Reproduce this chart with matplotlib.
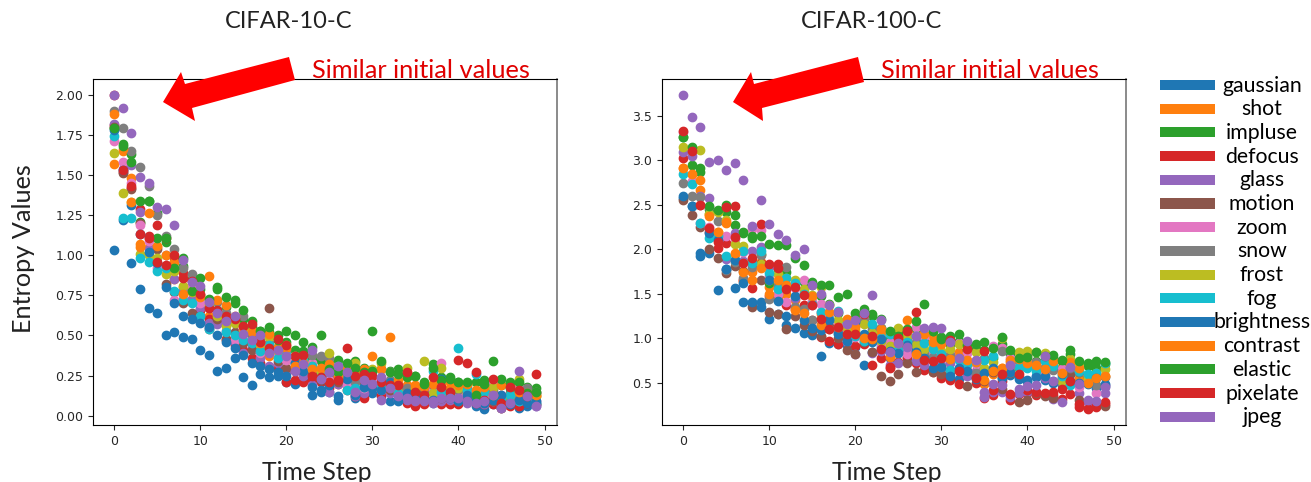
import matplotlib
matplotlib.use("Agg")
import matplotlib.pyplot as plt
import numpy as np
from matplotlib.patches import Polygon, Rectangle

W, H = 1311, 482

NAMES = ["gaussian", "shot", "impluse", "defocus", "glass", "motion", "zoom", "snow",
         "frost", "fog", "brightness", "contrast", "elastic", "pixelate", "jpeg"]
COLORS = ["C0", "C1", "C2", "C3", "C4", "C5", "C6", "C7", "C8", "C9", "C0", "C1", "C2", "C3", "C4"]
STEPS = list(range(50))

# entropy per time step, same order as NAMES
c10_gaussian = [1.03, 1.22, 0.95, 0.79, 0.67, 0.64, 0.50, 0.52, 0.49, 0.48,
                0.41, 0.38, 0.28, 0.30, 0.36, 0.24, 0.19, 0.26, 0.24, 0.25,
                0.21, 0.20, 0.22, 0.13, 0.15, 0.15, 0.10, 0.19, 0.11, 0.13,
                0.14, 0.12, 0.09, 0.10, 0.09, 0.09, 0.10, 0.08, 0.09, 0.08,
                0.08, 0.11, 0.06, 0.04, 0.07, 0.05, 0.14, 0.05, 0.06, 0.07]
c10_shot = [1.57, 1.65, 1.48, 1.07, 1.05, 1.05, 0.92, 0.85, 0.80, 0.72,
            0.66, 0.62, 0.63, 0.58, 0.49, 0.51, 0.46, 0.43, 0.37, 0.38,
            0.35, 0.30, 0.27, 0.24, 0.25, 0.24, 0.24, 0.27, 0.22, 0.24,
            0.24, 0.22, 0.20, 0.19, 0.19, 0.16, 0.15, 0.16, 0.14, 0.17,
            0.14, 0.13, 0.11, 0.14, 0.11, 0.11, 0.13, 0.10, 0.11, 0.12]
c10_impulse = [1.79, 1.69, 1.63, 1.21, 1.34, 1.26, 1.08, 0.96, 0.93, 0.85,
               0.79, 0.72, 0.79, 0.68, 0.70, 0.60, 0.55, 0.53, 0.52, 0.50,
               0.46, 0.41, 0.40, 0.36, 0.34, 0.33, 0.35, 0.32, 0.34, 0.30,
               0.53, 0.29, 0.28, 0.29, 0.26, 0.25, 0.21, 0.32, 0.24, 0.24,
               0.21, 0.19, 0.21, 0.22, 0.20, 0.19, 0.17, 0.20, 0.18, 0.17]
c10_defocus = [1.81, 1.52, 1.42, 1.29, 1.12, 1.19, 1.11, 0.99, 0.89, 0.84,
               0.66, 0.60, 0.58, 0.48, 0.44, 0.41, 0.36, 0.33, 0.30, 0.30,
               0.21, 0.22, 0.21, 0.22, 0.21, 0.17, 0.20, 0.16, 0.12, 0.11,
               0.18, 0.13, 0.16, 0.14, 0.08, 0.06, 0.07, 0.10, 0.07, 0.07,
               0.07, 0.09, 0.08, 0.07, 0.07, 0.05, 0.06, 0.06, 0.08, 0.07]
c10_glass = [1.82, 1.54, 1.56, 1.27, 1.04, 0.95, 1.00, 0.85, 0.78, 0.73,
             0.67, 0.58, 0.57, 0.53, 0.46, 0.39, 0.43, 0.36, 0.31, 0.33,
             0.27, 0.33, 0.25, 0.19, 0.24, 0.15, 0.20, 0.21, 0.12, 0.14,
             0.18, 0.10, 0.14, 0.10, 0.10, 0.09, 0.09, 0.08, 0.09, 0.10,
             0.10, 0.08, 0.09, 0.07, 0.09, 0.06, 0.08, 0.09, 0.10, 0.06]
c10_motion = [1.80, 1.51, 1.41, 1.20, 1.11, 1.04, 0.82, 0.77, 0.70, 0.64,
              0.62, 0.54, 0.60, 0.47, 0.52, 0.45, 0.41, 0.39, 0.67, 0.34,
              0.30, 0.28, 0.31, 0.26, 0.22, 0.25, 0.21, 0.24, 0.30, 0.20,
              0.19, 0.22, 0.16, 0.17, 0.13, 0.12, 0.14, 0.10, 0.11, 0.12,
              0.09, 0.11, 0.13, 0.16, 0.09, 0.07, 0.11, 0.10, 0.15, 0.14]
c10_zoom = [1.71, 1.58, 1.45, 1.19, 1.09, 0.92, 0.93, 0.72, 0.75, 0.80,
            0.70, 0.55, 0.65, 0.60, 0.47, 0.54, 0.48, 0.39, 0.41, 0.37,
            0.35, 0.32, 0.29, 0.33, 0.28, 0.22, 0.25, 0.19, 0.18, 0.17,
            0.23, 0.16, 0.27, 0.19, 0.14, 0.12, 0.11, 0.16, 0.33, 0.14,
            0.13, 0.14, 0.15, 0.12, 0.20, 0.13, 0.09, 0.18, 0.10, 0.09]
c10_snow = [1.90, 1.79, 1.65, 1.55, 1.43, 1.25, 1.12, 1.04, 0.92, 0.88,
            0.75, 0.67, 0.71, 0.64, 0.58, 0.62, 0.50, 0.47, 0.45, 0.43,
            0.41, 0.37, 0.35, 0.38, 0.37, 0.36, 0.29, 0.26, 0.21, 0.23,
            0.27, 0.20, 0.22, 0.18, 0.17, 0.16, 0.18, 0.19, 0.16, 0.15,
            0.16, 0.17, 0.14, 0.17, 0.16, 0.10, 0.09, 0.12, 0.17, 0.15]
c10_frost = [1.64, 1.39, 1.33, 1.01, 1.00, 0.98, 0.88, 0.90, 0.81, 0.77,
             0.75, 0.69, 0.62, 0.56, 0.58, 0.52, 0.53, 0.44, 0.49, 0.40,
             0.44, 0.37, 0.34, 0.31, 0.27, 0.39, 0.28, 0.31, 0.33, 0.27,
             0.29, 0.33, 0.21, 0.15, 0.30, 0.17, 0.34, 0.14, 0.30, 0.13,
             0.17, 0.14, 0.12, 0.15, 0.18, 0.11, 0.13, 0.23, 0.14, 0.12]
c10_fog = [1.74, 1.23, 1.23, 0.98, 0.96, 0.90, 0.92, 0.78, 0.72, 0.70,
           0.62, 0.54, 0.66, 0.52, 0.50, 0.47, 0.45, 0.40, 0.44, 0.36,
           0.38, 0.33, 0.35, 0.31, 0.24, 0.27, 0.31, 0.16, 0.17, 0.18,
           0.20, 0.19, 0.20, 0.14, 0.12, 0.13, 0.12, 0.28, 0.15, 0.13,
           0.42, 0.16, 0.26, 0.15, 0.12, 0.10, 0.13, 0.09, 0.11, 0.08]
c10_brightness = [1.78, 1.53, 1.31, 1.13, 1.02, 0.95, 0.80, 0.70, 0.62, 0.60,
                  0.58, 0.55, 0.50, 0.46, 0.42, 0.38, 0.33, 0.31, 0.29, 0.27,
                  0.25, 0.33, 0.28, 0.18, 0.16, 0.19, 0.12, 0.23, 0.13, 0.18,
                  0.17, 0.16, 0.21, 0.09, 0.14, 0.13, 0.11, 0.10, 0.23, 0.11,
                  0.09, 0.13, 0.10, 0.08, 0.10, 0.13, 0.07, 0.10, 0.08, 0.09]
c10_contrast = [1.88, 1.66, 1.33, 1.05, 1.26, 1.06, 1.00, 0.96, 0.76, 0.78,
                0.74, 0.87, 0.72, 0.69, 0.62, 0.55, 0.52, 0.45, 0.51, 0.43,
                0.42, 0.31, 0.33, 0.29, 0.30, 0.32, 0.24, 0.29, 0.27, 0.29,
                0.37, 0.29, 0.49, 0.22, 0.24, 0.19, 0.18, 0.20, 0.19, 0.21,
                0.19, 0.20, 0.16, 0.18, 0.13, 0.19, 0.19, 0.15, 0.13, 0.13]
c10_elastic = [1.79, 1.68, 1.58, 1.34, 1.34, 1.11, 1.11, 0.92, 0.98, 0.78,
               0.86, 0.73, 0.80, 0.74, 0.72, 0.66, 0.59, 0.53, 0.55, 0.47,
               0.53, 0.50, 0.46, 0.43, 0.50, 0.29, 0.27, 0.33, 0.30, 0.27,
               0.28, 0.34, 0.27, 0.26, 0.24, 0.25, 0.20, 0.30, 0.22, 0.23,
               0.21, 0.21, 0.13, 0.20, 0.34, 0.23, 0.21, 0.21, 0.14, 0.15]
c10_pixelate = [2.00, 1.53, 1.43, 1.13, 1.11, 0.96, 0.94, 1.00, 0.86, 0.84,
                0.76, 0.67, 0.66, 0.62, 0.60, 0.56, 0.57, 0.46, 0.42, 0.48,
                0.44, 0.37, 0.38, 0.25, 0.24, 0.21, 0.22, 0.42, 0.25, 0.26,
                0.25, 0.21, 0.19, 0.19, 0.27, 0.15, 0.13, 0.24, 0.18, 0.15,
                0.35, 0.33, 0.27, 0.10, 0.23, 0.08, 0.18, 0.16, 0.12, 0.26]
c10_jpeg = [2.00, 1.92, 1.76, 1.49, 1.45, 1.30, 1.29, 1.19, 0.97, 0.83,
            0.81, 0.71, 0.64, 0.59, 0.62, 0.51, 0.47, 0.50, 0.39, 0.41,
            0.37, 0.28, 0.32, 0.41, 0.23, 0.27, 0.31, 0.27, 0.15, 0.22,
            0.20, 0.24, 0.17, 0.12, 0.11, 0.10, 0.10, 0.09, 0.11, 0.11,
            0.11, 0.09, 0.08, 0.09, 0.13, 0.05, 0.08, 0.28, 0.12, 0.06]

c100_gaussian = [2.58, 2.49, 1.93, 1.96, 1.54, 1.78, 1.57, 1.41, 1.40, 1.41,
                 1.22, 1.27, 1.15, 1.12, 1.06, 1.04, 0.80, 0.95, 0.93, 0.92,
                 0.90, 0.70, 0.85, 0.90, 0.78, 0.85, 0.78, 0.88, 0.82, 0.75,
                 0.66, 0.62, 0.54, 0.60, 0.57, 0.50, 0.62, 0.55, 0.59, 0.54,
                 0.52, 0.58, 0.53, 0.50, 0.47, 0.60, 0.62, 0.50, 0.44, 0.46]
c100_shot = [2.92, 2.85, 2.67, 2.40, 2.20, 2.30, 1.95, 1.64, 1.74, 1.86,
             1.58, 1.45, 1.50, 1.43, 1.36, 1.40, 1.27, 1.25, 1.19, 1.21,
             1.14, 1.03, 1.14, 1.06, 0.96, 1.01, 0.95, 1.09, 1.04, 1.03,
             0.77, 0.85, 0.84, 0.71, 0.74, 0.49, 0.60, 0.66, 0.73, 0.78,
             0.70, 0.68, 0.62, 0.73, 0.68, 0.72, 0.55, 0.53, 0.62, 0.58]
c100_impulse = [3.26, 2.95, 2.87, 2.45, 2.43, 2.42, 2.27, 2.18, 2.13, 1.95,
                1.62, 1.78, 1.74, 1.62, 1.63, 1.60, 1.48, 1.39, 1.28, 1.19,
                1.23, 1.29, 1.25, 1.12, 0.99, 1.06, 1.01, 1.11, 0.98, 1.08,
                1.01, 0.93, 0.97, 0.87, 0.88, 0.87, 0.78, 0.94, 0.82, 0.66,
                0.81, 0.74, 0.75, 0.78, 0.74, 0.82, 0.62, 0.69, 0.66, 0.71]
c100_defocus = [3.03, 3.13, 2.50, 2.19, 2.01, 2.07, 2.49, 1.65, 1.57, 1.85,
                1.48, 1.83, 1.37, 1.33, 1.37, 1.21, 1.01, 0.97, 0.94, 1.00,
                0.91, 0.94, 0.70, 0.78, 0.66, 0.73, 0.79, 0.72, 0.64, 0.62,
                0.55, 0.53, 0.48, 0.63, 0.50, 0.33, 0.36, 0.52, 0.30, 0.37,
                0.38, 0.36, 0.37, 0.36, 0.31, 0.37, 0.23, 0.21, 0.23, 0.26]
c100_glass = [3.10, 3.05, 2.60, 2.58, 2.10, 1.89, 2.18, 1.87, 1.98, 2.03,
              1.80, 1.50, 1.60, 1.45, 1.52, 1.37, 1.29, 1.20, 1.08, 0.96,
              0.82, 0.98, 0.83, 0.86, 0.70, 0.72, 0.84, 0.74, 0.70, 0.77,
              0.70, 0.72, 0.67, 0.58, 0.63, 0.34, 0.39, 0.39, 0.34, 0.38,
              0.39, 0.40, 0.55, 0.32, 0.50, 0.48, 0.38, 0.28, 0.27, 0.38]
c100_motion = [2.56, 2.39, 2.25, 2.00, 1.90, 1.73, 1.81, 1.76, 1.35, 1.65,
               1.30, 1.27, 1.10, 1.25, 1.15, 1.08, 1.02, 1.14, 1.00, 0.87,
               0.82, 0.96, 0.85, 0.58, 0.52, 0.60, 0.72, 0.62, 0.84, 0.62,
               0.60, 0.63, 0.78, 0.46, 0.55, 0.52, 0.62, 0.43, 0.61, 0.28,
               0.30, 0.38, 0.35, 0.33, 0.55, 0.60, 0.30, 0.56, 0.28, 0.24]
c100_zoom = [3.32, 2.77, 2.30, 2.25, 2.10, 2.15, 2.12, 1.97, 2.23, 2.22,
             1.70, 1.50, 1.41, 1.57, 1.66, 1.42, 1.38, 1.25, 1.17, 1.10,
             1.01, 1.23, 1.02, 0.93, 0.96, 0.83, 0.82, 1.13, 1.01, 0.86,
             0.97, 0.82, 0.95, 0.83, 0.71, 0.62, 0.91, 0.89, 0.78, 0.70,
             0.78, 0.72, 0.60, 0.74, 0.65, 0.50, 0.45, 0.52, 0.38, 0.47]
c100_snow = [2.75, 2.60, 2.59, 2.48, 2.32, 1.77, 1.86, 1.68, 1.80, 1.94,
             1.44, 1.60, 1.80, 1.35, 1.33, 1.21, 1.15, 1.10, 1.06, 1.04,
             1.19, 1.21, 1.10, 1.12, 0.84, 0.90, 1.00, 0.96, 0.82, 0.79,
             0.68, 0.81, 0.78, 0.72, 0.61, 0.78, 0.65, 0.86, 0.68, 0.74,
             0.82, 0.73, 0.68, 0.64, 0.50, 0.66, 0.62, 0.58, 0.47, 0.56]
c100_frost = [3.15, 3.12, 3.12, 2.40, 2.42, 2.33, 2.06, 2.04, 1.88, 1.84,
              1.66, 1.72, 1.68, 1.65, 1.55, 1.49, 1.58, 1.37, 1.20, 1.12,
              1.09, 1.16, 1.06, 0.97, 0.91, 1.12, 1.02, 0.92, 0.88, 0.91,
              0.86, 0.88, 0.93, 0.70, 0.85, 0.67, 0.73, 1.00, 0.63, 0.84,
              0.86, 0.84, 0.83, 0.70, 0.52, 0.77, 0.72, 0.55, 0.61, 0.65]
c100_fog = [2.85, 2.73, 2.30, 2.13, 2.15, 1.92, 1.88, 1.98, 1.85, 1.98,
            1.73, 1.55, 1.68, 1.62, 1.50, 1.39, 1.30, 1.22, 1.31, 1.17,
            1.02, 0.97, 1.16, 1.00, 1.05, 0.87, 0.96, 1.02, 0.95, 0.88,
            0.82, 0.64, 0.76, 0.71, 0.73, 0.76, 0.80, 0.60, 0.62, 0.68,
            0.67, 0.63, 0.74, 0.69, 0.57, 0.47, 0.63, 0.60, 0.61, 0.72]
c100_brightness = [2.60, 2.49, 1.96, 2.18, 2.10, 1.78, 1.88, 1.62, 1.41, 1.35,
                   1.65, 1.42, 1.25, 1.47, 1.21, 1.12, 1.09, 1.20, 1.05, 0.97,
                   1.18, 1.05, 0.96, 0.99, 0.86, 0.83, 0.92, 0.85, 0.78, 0.66,
                   0.68, 0.58, 0.66, 0.63, 0.54, 0.61, 0.66, 0.55, 0.62, 0.56,
                   0.53, 0.56, 0.57, 0.52, 0.60, 0.52, 0.50, 0.48, 0.55, 0.48]
c100_contrast = [2.92, 2.85, 2.78, 2.38, 2.20, 2.31, 1.96, 1.75, 1.65, 1.79,
                 1.50, 1.65, 1.60, 1.32, 1.28, 1.48, 1.15, 1.30, 1.13, 1.22,
                 1.13, 1.00, 0.99, 1.10, 0.79, 0.95, 1.20, 0.82, 1.05, 0.96,
                 0.94, 0.77, 0.79, 0.76, 0.73, 0.53, 0.63, 0.67, 0.75, 0.77,
                 0.72, 0.70, 0.65, 0.74, 0.61, 0.73, 0.66, 0.50, 0.55, 0.58]
c100_elastic = [3.26, 3.15, 2.92, 2.49, 2.44, 2.50, 2.39, 2.20, 2.15, 2.15,
                2.06, 2.05, 2.05, 1.90, 1.82, 1.63, 1.60, 1.60, 1.46, 1.50,
                1.28, 1.33, 1.27, 1.22, 1.08, 1.03, 1.10, 1.19, 1.39, 1.08,
                0.99, 1.02, 1.05, 0.92, 0.93, 0.96, 0.89, 1.01, 0.87, 0.78,
                0.79, 0.84, 0.80, 0.81, 0.75, 0.87, 0.74, 0.72, 0.74, 0.73]
c100_pixelate = [3.33, 3.11, 2.50, 2.24, 2.08, 2.48, 2.14, 1.85, 1.90, 2.28,
                 1.84, 1.79, 1.55, 1.58, 1.49, 1.37, 1.22, 1.10, 1.13, 1.05,
                 1.05, 1.27, 1.03, 0.88, 0.68, 1.00, 1.08, 1.30, 0.75, 0.74,
                 0.78, 0.98, 0.63, 0.88, 0.55, 0.86, 0.42, 0.60, 0.37, 0.60,
                 0.42, 0.40, 0.38, 0.39, 0.43, 0.52, 0.26, 0.20, 0.26, 0.28]
c100_jpeg = [3.74, 3.49, 3.38, 2.98, 3.01, 2.89, 2.97, 2.78, 2.26, 2.56,
             2.28, 2.17, 2.11, 1.94, 2.00, 1.60, 1.50, 1.37, 1.30, 1.16,
             1.20, 1.28, 1.49, 1.21, 0.85, 0.95, 0.90, 1.03, 1.12, 1.13,
             1.11, 0.96, 0.78, 0.97, 0.76, 0.39, 0.48, 0.47, 0.70, 0.43,
             0.46, 0.47, 0.80, 0.52, 0.28, 0.68, 0.48, 0.30, 0.29, 0.45]

C10_SERIES = [c10_gaussian, c10_shot, c10_impulse, c10_defocus, c10_glass, c10_motion, c10_zoom, c10_snow,
              c10_frost, c10_fog, c10_brightness, c10_contrast, c10_elastic, c10_pixelate, c10_jpeg]
C100_SERIES = [c100_gaussian, c100_shot, c100_impulse, c100_defocus, c100_glass, c100_motion, c100_zoom, c100_snow,
               c100_frost, c100_fog, c100_brightness, c100_contrast, c100_elastic, c100_pixelate, c100_jpeg]


def fig_xy(points):
    # pixel positions (y down) to figure fractions
    pts = np.array(points, dtype=float)
    return np.column_stack([pts[:, 0] / W, 1 - pts[:, 1] / H])


def draw_panel(ax, series):
    for values, color in zip(series, COLORS):
        ax.scatter(STEPS, values, c=color, s=36)
    ax.tick_params(labelsize=9, colors="#262626", length=3.5)
    ax.spines["right"].set_color("#777777")
    ax.spines["right"].set_linewidth(1.2)


plt.rcParams["font.family"] = ["Lato", "DejaVu Sans"]
fig = plt.figure(figsize=(W / 100, H / 100), dpi=100)
ax1 = fig.add_axes([93 / W, 1 - 425 / H, 464 / W, 346 / H])
ax2 = fig.add_axes([662 / W, 1 - 425 / H, 464 / W, 346 / H])
for ax in (ax1, ax2):
    ax.tick_params(labelfontfamily="DejaVu Sans")
draw_panel(ax1, C10_SERIES)
draw_panel(ax2, C100_SERIES)
ax1.set_yticks([0, 0.25, 0.5, 0.75, 1.0, 1.25, 1.5, 1.75, 2.0])
ax2.set_yticks([0.5, 1.0, 1.5, 2.0, 2.5, 3.0, 3.5])

txt = dict(ha="center", va="center", color="#222222")
fig.text(288.5 / W, 1 - 22 / H, "CIFAR-10-C", fontsize=17, **txt)
fig.text(872 / W, 1 - 22 / H, "CIFAR-100-C", fontsize=17, **txt)
fig.text(316.5 / W, 1 - 472 / H, "Time Step", fontsize=17.8, **txt)
fig.text(886.5 / W, 1 - 472 / H, "Time Step", fontsize=17.8, **txt)
fig.text(24 / W, 1 - 249 / H, "Entropy Values", rotation=90, fontsize=18.2, **txt)

arrow_left = [(163, 102), (181, 72), (185, 84), (289, 57), (295, 80), (192, 108), (195, 121)]
arrow_right = [(733, 102), (751, 72), (754, 84), (858, 57), (864, 82), (762, 108), (763, 121)]
for pts in (arrow_left, arrow_right):
    fig.add_artist(Polygon(fig_xy(pts), closed=True, color="#ff0000", lw=0, transform=fig.transFigure, zorder=5))
fig.text(420.5 / W, 1 - 71 / H, "Similar initial values", color="#e00000", ha="center", va="center", fontsize=18.3)
fig.text(989.5 / W, 1 - 71 / H, "Similar initial values", color="#e00000", ha="center", va="center", fontsize=18.3)

# hand drawn legend, wide colour bars with centred names
for i, (name, color) in enumerate(zip(NAMES, COLORS)):
    y = 85 + 23.7 * i
    fig.add_artist(Rectangle((1160 / W, 1 - (y + 5) / H), 55 / W, 10 / H, color=color, lw=0, transform=fig.transFigure))
    fig.text(1262 / W, 1 - (y + 0.5) / H, name, ha="center", va="center", fontsize=15.3, color="black")

plt.savefig("out.png", dpi=100)
plt.close()
